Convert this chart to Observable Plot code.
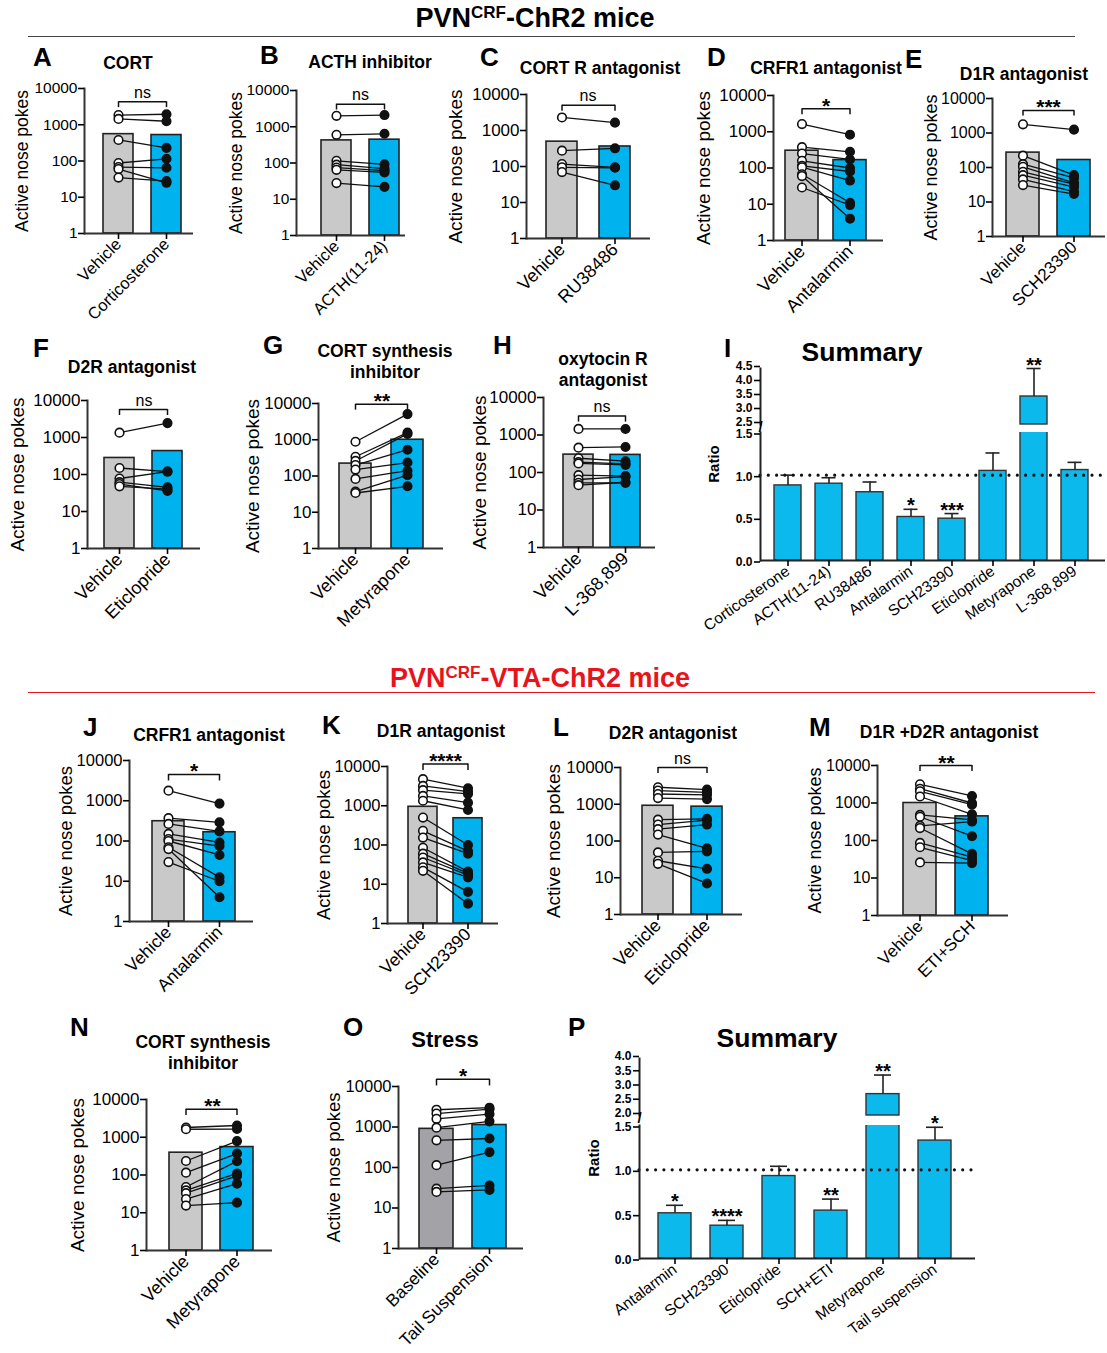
<!DOCTYPE html>
<html><head><meta charset="utf-8">
<script src="https://cdn.jsdelivr.net/npm/d3@7"></script>
<script src="https://cdn.jsdelivr.net/npm/@observablehq/plot@0.6"></script>
<style>
body{margin:0;background:#fff;}
#fig{position:relative;width:1107px;height:1353px;background:#fff;font-family:"Liberation Sans",Arial,sans-serif;color:#000;overflow:hidden}
.abs{position:absolute}
.hdr{font-weight:bold;font-size:27px;white-space:nowrap;transform:translate(-50%,-50%);line-height:1}
.hdr sup{font-size:17px;vertical-align:top;position:relative;top:-1px}
.let{font-weight:bold;font-size:26px;line-height:1;transform:translateY(-50%)}
.ttl{font-weight:bold;font-size:17.5px;line-height:21px;text-align:center;white-space:nowrap;transform:translate(-50%,-50%)}
.sum{font-weight:bold;font-size:26.5px;white-space:nowrap;transform:translate(-50%,-50%)}
.ratio{font-weight:bold;font-size:15px;transform:translate(-50%,-50%) rotate(-90deg);white-space:nowrap}
.hline{height:0}
</style></head><body><div id="fig"></div>
<script>
// ---------------- DATA ----------------
// Panel A
const catsA = ["Vehicle", "Corticosterone"];
const vehA = [1850, 1450, 380, 88, 68, 60, 35];
const drugA = [1950, 1250, 230, 115, 65, 25, 28];
const meanA = [550, 520];
// Panel B
const catsB = ["Vehicle", "ACTH(11-24)"];
const vehB = [2000, 600, 115, 90, 75, 65, 28];
const drugB = [2100, 640, 92, 70, 62, 55, 22];
const meanB = [420, 440];
// Panel C
const catsC = ["Vehicle", "RU38486"];
const vehC = [2300, 275, 117, 95, 70];
const drugC = [1650, 320, 95, 92, 30];
const meanC = [490, 360];
// Panel D
const catsD = ["Vehicle", "Antalarmin"];
const vehD = [1630, 375, 250, 158, 115, 105, 67, 60, 29];
const drugD = [830, 280, 172, 100, 80, 45, 11, 4, 9.5];
const meanD = [300, 165];
// Panel E
const catsE = ["Vehicle", "SCH23390"];
const vehE = [1780, 220, 125, 105, 75, 60, 45, 31];
const drugE = [1250, 60, 50, 36, 33, 27, 20, 17];
const meanE = [270, 165];
// Panel F
const catsF = ["Vehicle", "Eticlopride"];
const vehF = [1350, 150, 78, 62, 55, 48];
const drugF = [2450, 120, 120, 45, 36, 40];
const meanF = [280, 430];
// Panel G
const catsG = ["Vehicle", "Metyrapone"];
const vehG = [880, 340, 260, 200, 150, 83, 37, 34];
const drugG = [5100, 1580, 1450, 530, 235, 140, 105, 52];
const meanG = [220, 1000];
// Panel H
const catsH = ["Vehicle", "L-368,899"];
const vehH = [1450, 460, 240, 190, 175, 85, 65, 53, 46];
const drugH = [1450, 480, 200, 170, 160, 80, 78, 53, 55];
const meanH = [300, 295];
// Panel J
const catsJ = ["Vehicle", "Antalarmin"];
const vehJ = [1780, 370, 265, 150, 112, 100, 70, 63, 30];
const drugJ = [850, 290, 173, 92, 75, 45, 12.5, 4, 10];
const meanJ = [310, 165];
// Panel K
const catsK = ["Vehicle", "SCH23390"];
const vehK = [4750, 3200, 2500, 1780, 1340, 500, 230, 155, 85, 60, 48, 36, 27, 22];
const drugK = [2800, 2300, 2000, 1200, 780, 100, 70, 60, 21, 19, 17, 15, 6.4, 3.2];
const meanK = [940, 480];
// Panel L
const catsL = ["Vehicle", "Eticlopride"];
const vehL = [2900, 2350, 1900, 1470, 380, 280, 210, 150, 49, 29, 24];
const drugL = [2500, 2100, 1800, 1380, 400, 370, 280, 63, 52, 17.5, 7];
const meanL = [910, 860];
// Panel M
const catsM = ["Vehicle", "ETI+SCH"];
const vehM = [3150, 2400, 2050, 1490, 480, 430, 245, 215, 86, 66, 26];
const drugM = [1540, 1000, 900, 500, 355, 130, 320, 44, 36, 29, 25];
const meanM = [1000, 440];
// Panel N
const catsN = ["Vehicle", "Metyrapone"];
const vehN = [1810, 1630, 235, 115, 48, 39, 33, 23, 15.5];
const drugN = [2050, 1650, 790, 370, 232, 110, 95, 59, 18.5];
const meanN = [390, 550];
// Panel O
const catsO = ["Baseline", "Tail Suspension"];
const vehO = [2670, 2150, 1590, 960, 470, 114, 30, 25];
const drugO = [3000, 2750, 2080, 1380, 520, 240, 36, 28];
const meanO = [900, 1120];
// Significance labels
const sigLabels = {A: "ns", B: "ns", C: "ns", D: "*", E: "***", F: "ns", G: "**", H: "ns",
                   J: "*", K: "****", L: "ns", M: "**", N: "**", O: "*"};
// Summary I
const catsI = ["Corticosterone", "ACTH(11-24)", "RU38486", "Antalarmin", "SCH23390", "Eticlopride", "Metyrapone", "L-368,899"];
const ratioI = [0.88, 0.90, 0.80, 0.51, 0.49, 1.05, 3.5, 1.06];
const semI = [0.12, 0.07, 0.12, 0.09, 0.06, 0.21, 1.0, 0.09];
const starsI = ["", "", "", "*", "***", "", "**", ""];
// Summary P
const catsP = ["Antalarmin", "SCH23390", "Eticlopride", "SCH+ETI", "Metyrapone", "Tail suspension"];
const ratioP = [0.51, 0.37, 0.93, 0.54, 2.75, 1.33];
const semP = [0.09, 0.06, 0.11, 0.13, 0.67, 0.15];
const starsP = ["*", "****", "", "**", "**", "*"];
// Axis tick values
const logTicks = [1, 10, 100, 1000, 10000];
const lowTicks = [0, 0.5, 1.0, 1.5];
const upTicksI = [2.5, 3.0, 3.5, 4.0, 4.5];
const upTicksP = [2.0, 2.5, 3.0, 3.5, 4.0];

// ---------------- LAYOUT ----------------
const FONT = '"Liberation Sans", Arial, sans-serif';
const GRAY = "#c9c9c9", DGRAY = "#a3a3a7", BLUE = "#00b3ef", SBLUE = "#0cb9ec";
const fig = document.getElementById("fig");
function place(node, left, top) {
  const d = document.createElement("div");
  d.className = "abs"; d.style.left = left + "px"; d.style.top = top + "px";
  d.appendChild(node); fig.appendChild(d); return d;
}
function label(cls, left, top, htmlText, style) {
  const d = document.createElement("div");
  d.className = "abs " + cls; d.style.left = left + "px"; d.style.top = top + "px";
  d.innerHTML = htmlText; if (style) Object.assign(d.style, style);
  fig.appendChild(d); return d;
}
const baseStyle = {background: "transparent", overflow: "visible", maxWidth: "none", fontFamily: FONT, color: "#000"};

function paired(Lay, cats, veh, drug, means, sig, grayFill) {
  const ML = 95, MT = 60, MB = 130, MR = 10;
  const left = Lay.ax - ML, top = Lay.top - MT;
  const width = ML + (Lay.xend - Lay.ax) + MR;
  const height = MT + (Lay.bot - Lay.top) + MB;
  const step = Lay.b[0] - Lay.g[0], bw = Lay.g[1] - Lay.g[0];
  const pairs = veh.map((v, i) => ({v, d: drug[i]}));
  const bars = cats.map((c, i) => ({c, m: means[i]}));
  const lvl = Lay.br;
  const isNs = sig === "ns";
  const tf = Lay.tf || 17;
  const svg = Plot.plot({
    width, height, marginLeft: ML, marginTop: MT, marginBottom: MB, marginRight: MR,
    style: baseStyle,
    x: {domain: cats, range: [Lay.g[0] - left, Lay.b[1] - left], paddingInner: 1 - bw / step, paddingOuter: 0},
    y: {type: "log", domain: [1, 10000]},
    marks: [
      Plot.barY(bars.slice(0, 1), {x: "c", y1: 1, y2: "m", fill: grayFill || GRAY, stroke: "#222", strokeWidth: 1.6}),
      Plot.barY(bars.slice(1), {x: "c", y1: 1, y2: "m", fill: BLUE, stroke: "#222", strokeWidth: 1.6}),
      Plot.link(pairs, {x1: () => cats[0], x2: () => cats[1], y1: "v", y2: "d", stroke: "#111", strokeWidth: 1.3}),
      Plot.dot(pairs, {x: () => cats[0], y: "v", r: 4.3, fill: "#fff", stroke: "#111", strokeWidth: 1.6}),
      Plot.dot(pairs, {x: () => cats[1], y: "d", r: 4.3, fill: "#111", stroke: "#111"}),
      Plot.ruleY([1], {stroke: "#333", strokeWidth: 2}),
      Plot.frame({anchor: "left", stroke: "#333", strokeWidth: 2}),
      Plot.axisY({ticks: logTicks, tickFormat: d => String(d), tickSize: 6, tickPadding: 1, fontSize: tf, strokeWidth: 1.6, label: null}),
      Plot.axisX({tickRotate: -45, tickSize: 6, tickPadding: 2, fontSize: tf + 1, strokeWidth: 1.6, label: null}),
      Plot.text(["Active nose pokes"], {frameAnchor: "left", textAnchor: "middle", rotate: -90, dx: -Lay.yl, fontSize: tf + 2}),
      Plot.link([lvl], {x1: () => cats[0], x2: () => cats[1], y1: d => d, y2: d => d, stroke: "#111", strokeWidth: 1.5}),
      Plot.ruleX(cats, {x: d => d, y1: lvl, y2: lvl / 1.45, stroke: "#111", strokeWidth: 1.5}),
      Plot.text([sig], {x: () => cats[0], y: () => lvl, dx: step / 2, dy: isNs ? -4 : 4, lineAnchor: "bottom",
        fontSize: isNs ? 16 : 21, fontWeight: isNs ? "normal" : "bold"})
    ]
  });
  place(svg, left, top);
}

function summary(Lay, cats, ratio, sem, stars, upTicks, rot) {
  const ML = 45, MR = 5, MBl = 115, MTl = 8, MTu = 30, MBu = 4;
  const rows = cats.map((c, i) => ({c, v: ratio[i], e: sem[i], s: stars[i]}));
  const left = Lay.ax - ML;
  const width = ML + (Lay.xend - Lay.ax) + MR;
  const xopt = {domain: cats, range: [Lay.x0 - left, Lay.x0 - left + Lay.step * (cats.length - 1) + Lay.bw],
    paddingInner: 1 - Lay.bw / Lay.step, paddingOuter: 0};
  const capInset = (Lay.bw - Lay.cap) / 2;
  const lowMax = lowTicks[lowTicks.length - 1], upMin = upTicks[0], upMax = upTicks[upTicks.length - 1];
  const lowRows = rows.filter(d => d.v + d.e <= lowMax);
  const upRows = rows.filter(d => d.v > lowMax);
  const low = Plot.plot({
    width, height: MTl + (Lay.lb - Lay.lt) + MBl, marginLeft: ML, marginRight: MR, marginTop: MTl, marginBottom: MBl,
    style: baseStyle, x: xopt, y: {domain: [0, lowMax]},
    marks: [
      Plot.barY(rows, {x: "c", y1: 0, y2: "v", fill: SBLUE, stroke: "#333", strokeWidth: 1.4, clip: true}),
      Plot.ruleX(lowRows, {x: "c", y1: "v", y2: d => d.v + d.e, stroke: "#222", strokeWidth: 1.6}),
      Plot.tickY(lowRows, {x: "c", y: d => d.v + d.e, insetLeft: capInset, insetRight: capInset, stroke: "#222", strokeWidth: 1.6}),
      Plot.text(lowRows, {x: "c", y: d => d.v + d.e, text: "s", dy: 3, lineAnchor: "bottom", fontSize: 20, fontWeight: "bold"}),
      Plot.ruleY([1], {stroke: "#111", strokeWidth: 3.2, strokeDasharray: "0 8.3", strokeLinecap: "round"}),
      Plot.ruleY([0], {stroke: "#222", strokeWidth: 2}),
      Plot.frame({anchor: "left", stroke: "#222", strokeWidth: 2}),
      Plot.axisY({ticks: lowTicks, tickFormat: d3.format(".1f"), tickSize: 6, tickPadding: 2, fontSize: 12, fontWeight: "bold", strokeWidth: 1.6, label: null, dy: 1.5}),
      Plot.axisX({tickRotate: -rot, tickSize: 6, tickPadding: 3, fontSize: 15.5, strokeWidth: 1.6, label: null})
    ]
  });
  place(low, left, Lay.lt - MTl);
  const up = Plot.plot({
    width, height: MTu + (Lay.ub - Lay.ut) + MBu, marginLeft: ML, marginRight: MR, marginTop: MTu, marginBottom: MBu,
    style: baseStyle, x: {...xopt, axis: null}, y: {domain: [upMin, upMax]},
    marks: [
      Plot.barY(upRows, {x: "c", y1: upMin, y2: "v", fill: SBLUE, stroke: "#333", strokeWidth: 1.4}),
      Plot.ruleX(upRows, {x: "c", y1: "v", y2: d => d.v + d.e, stroke: "#222", strokeWidth: 1.6}),
      Plot.tickY(upRows, {x: "c", y: d => d.v + d.e, insetLeft: capInset, insetRight: capInset, stroke: "#222", strokeWidth: 1.6}),
      Plot.text(upRows, {x: "c", y: d => d.v + d.e, text: "s", dy: 3, lineAnchor: "bottom", fontSize: 20, fontWeight: "bold"}),
      Plot.frame({anchor: "left", stroke: "#222", strokeWidth: 2}),
      Plot.axisY({ticks: upTicks, tickFormat: d3.format(".1f"), tickSize: 6, tickPadding: 2, fontSize: 12, fontWeight: "bold", strokeWidth: 1.6, label: null, dy: -2}),
      Plot.text(["/"], {frameAnchor: "bottom-left", textAnchor: "middle", dy: 7, fontSize: 15, fontWeight: "bold"})
    ]
  });
  place(up, left, Lay.ut - MTu);
}

// ---------------- HEADERS ----------------
label("hdr", 535, 18, "PVN<sup>CRF</sup>-ChR2 mice");
label("hline", 28, 36, "", {width: "1047px", borderTop: "1.3px solid #444"});
label("hdr", 540, 678, "PVN<sup>CRF</sup>-VTA-ChR2 mice", {color: "#e8141c"});
label("hline", 28, 692, "", {width: "1067px", borderTop: "1.3px solid #e8141c"});

// ---------------- PANELS ----------------
const layouts = {
  A: {ax: 84, top: 88, bot: 233, xend: 193, g: [103, 133], b: [151, 181], yl: 62, br: 4300, tf: 15.5},
  B: {ax: 296, top: 90, bot: 235, xend: 405, g: [320, 350], b: [368, 399], yl: 60, br: 4200, tf: 15.5},
  C: {ax: 526, top: 94, bot: 238, xend: 650, g: [545, 575], b: [597, 630], yl: 71, br: 5000},
  D: {ax: 773, top: 95, bot: 240, xend: 883, g: [785, 818], b: [833, 866], yl: 70, br: 4300},
  E: {ax: 992, top: 98, bot: 236, xend: 1105, g: [1006, 1039], b: [1057, 1090], yl: 61, br: 4500, tf: 16},
  F: {ax: 87, top: 400, bot: 548, xend: 200, g: [104, 135], b: [153, 183], yl: 70, br: 5700},
  G: {ax: 318, top: 403, bot: 548, xend: 443, g: [339, 372], b: [392, 424], yl: 66, br: 9500},
  H: {ax: 543, top: 397, bot: 547, xend: 655, g: [562, 592], b: [609, 640], yl: 64, br: 3200},
  J: {ax: 129, top: 760, bot: 921, xend: 253, g: [152, 184], b: [203, 235], yl: 63, br: 4500, tf: 16.5},
  K: {ax: 387, top: 766, bot: 923, xend: 498, g: [408, 437], b: [453, 482], yl: 63, br: 11500, tf: 16.5},
  L: {ax: 620, top: 767, bot: 914, xend: 742, g: [642, 673], b: [691, 722], yl: 67, br: 10000},
  M: {ax: 877, top: 765, bot: 915, xend: 1008, g: [903, 937], b: [956, 989], yl: 62, br: 10000, tf: 16},
  N: {ax: 146, top: 1099, bot: 1250, xend: 272, g: [168, 202], b: [221, 253], yl: 69, br: 5500},
  O: {ax: 398, top: 1086, bot: 1248, xend: 523, g: [418, 452], b: [471, 506], yl: 64, br: 15000, tf: 16.5}
};
paired(layouts.A, catsA, vehA, drugA, meanA, sigLabels.A);
paired(layouts.B, catsB, vehB, drugB, meanB, sigLabels.B);
paired(layouts.C, catsC, vehC, drugC, meanC, sigLabels.C);
paired(layouts.D, catsD, vehD, drugD, meanD, sigLabels.D);
paired(layouts.E, catsE, vehE, drugE, meanE, sigLabels.E);
paired(layouts.F, catsF, vehF, drugF, meanF, sigLabels.F);
paired(layouts.G, catsG, vehG, drugG, meanG, sigLabels.G);
paired(layouts.H, catsH, vehH, drugH, meanH, sigLabels.H);
paired(layouts.J, catsJ, vehJ, drugJ, meanJ, sigLabels.J);
paired(layouts.K, catsK, vehK, drugK, meanK, sigLabels.K);
paired(layouts.L, catsL, vehL, drugL, meanL, sigLabels.L);
paired(layouts.M, catsM, vehM, drugM, meanM, sigLabels.M);
paired(layouts.N, catsN, vehN, drugN, meanN, sigLabels.N);
paired(layouts.O, catsO, vehO, drugO, meanO, sigLabels.O, DGRAY);

summary({ax: 760, lt: 432, lb: 560, ut: 368, ub: 424, xend: 1105, x0: 773.5, step: 41.25, bw: 27, cap: 14},
  catsI, ratioI, semI, starsI, upTicksI, 35);
summary({ax: 639, lt: 1125, lb: 1258, ut: 1058, ub: 1115, xend: 975, x0: 656, step: 52.8, bw: 34, cap: 18},
  catsP, ratioP, semP, starsP, upTicksP, 37);

// ---------------- LETTERS & TITLES ----------------
const letters = [["A", 33, 57], ["B", 260, 55], ["C", 480, 57], ["D", 707, 57], ["E", 905, 59],
  ["F", 33, 348], ["G", 263, 345], ["H", 493, 345], ["I", 724, 348],
  ["J", 83, 727], ["K", 322, 725], ["L", 553, 727], ["M", 809, 727],
  ["N", 70, 1027], ["O", 343, 1027], ["P", 568, 1027]];
letters.forEach(([t, x, y]) => label("let", x, y, t));
const titles = [["CORT", 128, 63], ["ACTH inhibitor", 370, 62], ["CORT R antagonist", 600, 68],
  ["CRFR1 antagonist", 826, 68], ["D1R antagonist", 1024, 74], ["D2R antagonist", 132, 367],
  ["CORT synthesis<br>inhibitor", 385, 362], ["oxytocin R<br>antagonist", 603, 370],
  ["CRFR1 antagonist", 209, 735], ["D1R antagonist", 441, 731], ["D2R antagonist", 673, 733],
  ["D1R +D2R antagonist", 949, 732], ["CORT synthesis<br>inhibitor", 203, 1053]];
titles.forEach(([t, x, y]) => label("ttl", x, y, t));
label("ttl", 445, 1039, "Stress", {fontSize: "22px"});
label("sum", 862, 352, "Summary");
label("sum", 777, 1038, "Summary");
label("ratio", 713, 464, "Ratio");
label("ratio", 593, 1158, "Ratio");
</script>
</body></html>
